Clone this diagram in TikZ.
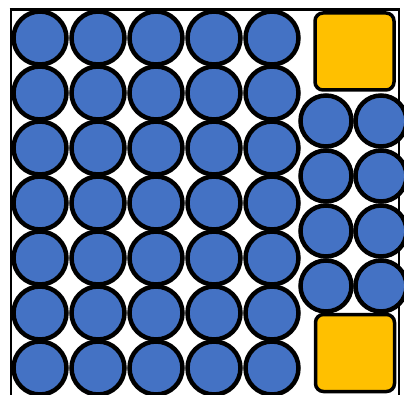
\documentclass[tikz,border=0pt]{standalone}
\usepackage{tikz}
\definecolor{discblue}{HTML}{4472C4}
\definecolor{blockgold}{HTML}{FFC000}
\tikzset{
    disc/.style = {
        circle, draw, fill=discblue,
        line width=4.5pt,
        minimum size=53pt,
        inner sep=0pt
    },
    block/.style = {
        rectangle, draw, fill=blockgold,
        line width=3.5pt,
        rounded corners=8pt,
        minimum width=79pt,
        minimum height=77pt
    },
    frameline/.style = {
        line width=2pt
    }
}

\begin{document}
\begin{tikzpicture}[x=1pt, y=-1pt]
\useasboundingbox (0,0) rectangle (404,395);

% outer frame, open at the bottom
\draw [frameline] (10.5,395) -- (10.5,9.5);
\draw [frameline] (398.5,9.5) -- (398.5,395);
\draw [frameline, line width=3pt] (9.5,9.5) -- (399.5,9.5);

% left packing, 5 x 7
\foreach \c in {0,...,4} {
  \foreach \r in {0,...,6} {
    \node (l-\c-\r) [disc] at (40+58*\c, 38+55*\r) {};
  }
}

% right packing, 2 x 4
\foreach \c in {0,1} {
  \foreach \r in {0,...,3} {
    \node (r-\c-\r) [disc, minimum size=51pt] at (326+55*\c, 121+55*\r) {};
  }
}

\node (top) [block] at (354.5,51.5) {};
\node (bottom) [block] at (355,353) {};

\end{tikzpicture}
\end{document}
